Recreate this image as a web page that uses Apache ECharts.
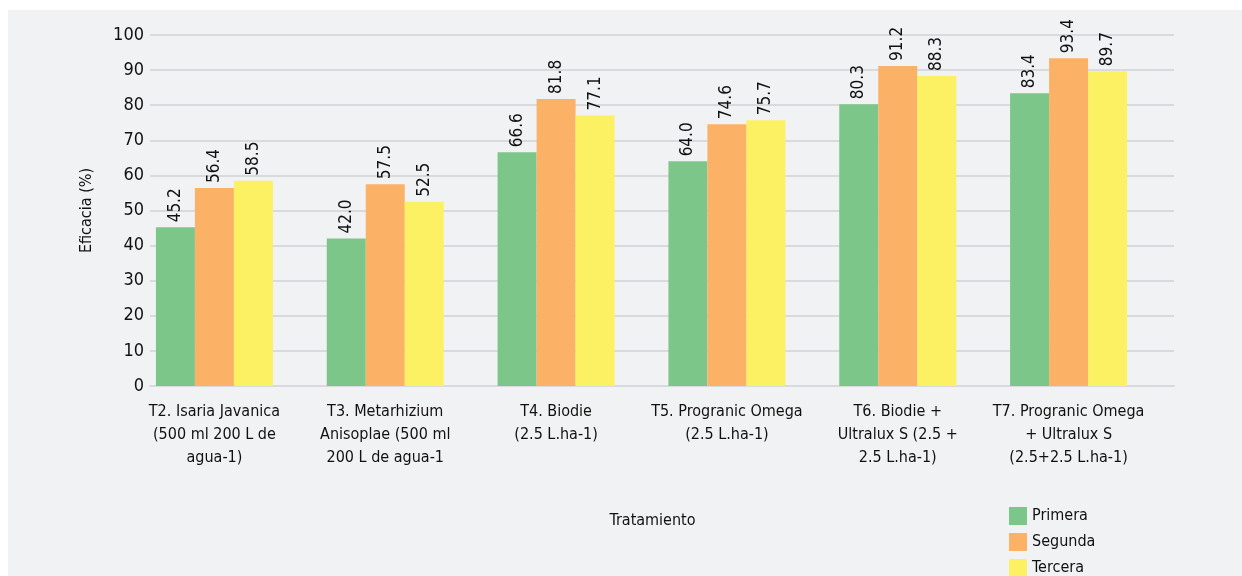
<!DOCTYPE html>
<html>
<head>
<meta charset="utf-8">
<script src="https://cdn.jsdelivr.net/npm/echarts@6/dist/echarts.min.js"></script>
<style>
  html, body { margin: 0; padding: 0; background: #fff; }
  #chart { width: 1242px; height: 576px; }
</style>
</head>
<body>
<div id="chart"></div>
<script>
var categories = [
  'T2. Isaria Javanica\n(500 ml 200 L de\nagua-1)',
  'T3. Metarhizium\nAnisoplae (500 ml\n200 L de agua-1',
  'T4. Biodie\n(2.5 L.ha-1)',
  'T5. Progranic Omega\n(2.5 L.ha-1)',
  'T6. Biodie +\nUltralux S (2.5 +\n2.5 L.ha-1)',
  'T7. Progranic Omega\n+ Ultralux S\n(2.5+2.5 L.ha-1)'
];
var primera = [45.2, 42.0, 66.6, 64.0, 80.3, 83.4];
var segunda = [56.4, 57.5, 81.8, 74.6, 91.2, 93.4];
var tercera = [58.5, 52.5, 77.1, 75.7, 88.3, 89.7];
var seriesNames = ['Primera', 'Segunda', 'Tercera'];
var colors = ['#7dc68a', '#fbb266', '#fcf063'];

var font = '"DejaVu Sans Condensed", "Roboto", sans-serif';

var myChart = echarts.init(document.getElementById('chart'));

function barSeries(name, data, color) {
  return {
    name: name,
    type: 'bar',
    data: data,
    xAxisIndex: 0,
    yAxisIndex: 0,
    barWidth: 39,
    barGap: '0%',
    itemStyle: { color: color },
    label: {
      show: true,
      position: 'top',
      rotate: 90,
      align: 'left',
      verticalAlign: 'middle',
      distance: 5,
      fontFamily: font,
      fontSize: 17,
      color: '#111',
      formatter: function (p) { return p.value.toFixed(1); }
    }
  };
}

// one legend per series so they stack in a single column
var legends = seriesNames.map(function (n, i) {
  return {
    orient: 'vertical',
    left: 1009,
    top: 507 + i * 26,
    padding: 0,
    itemWidth: 18,
    itemHeight: 18,
    icon: 'rect',
    textStyle: { fontFamily: font, fontSize: 16, color: '#111' },
    data: [n]
  };
});

var option = {
  backgroundColor: '#fff',
  animation: false,
  textStyle: { fontFamily: font },
  graphic: [{
    type: 'rect',
    left: 8, top: 10,
    shape: { width: 1234, height: 566 },
    style: { fill: '#f1f2f4' },
    z: -10
  }],
  legend: legends,
  grid: [
    { left: 129, right: 88, top: 35, bottom: 190 },
    { left: 150, right: 68, top: 35, bottom: 190 }
  ],
  xAxis: [
    {
      type: 'category',
      gridIndex: 0,
      data: categories,
      axisLine: { show: false },
      axisTick: { show: false },
      axisLabel: {
        fontFamily: font,
        fontSize: 16,
        color: '#111',
        lineHeight: 23,
        margin: 14,
        interval: 0
      },
      name: 'Tratamiento',
      nameLocation: 'middle',
      nameGap: 127,
      nameTextStyle: { fontFamily: font, fontSize: 16, color: '#111', padding: [0, 0, 0, 22] }
    },
    {
      type: 'category',
      gridIndex: 1,
      data: categories,
      axisLine: { show: true, lineStyle: { color: '#d9dadd', width: 2 } },
      axisTick: { show: false },
      axisLabel: { show: false }
    }
  ],
  yAxis: [
    {
      type: 'value',
      gridIndex: 0,
      min: 0, max: 100, interval: 10,
      axisLabel: { show: false },
      splitLine: { show: false },
      axisLine: { show: false },
      axisTick: { show: false }
    },
    {
      type: 'value',
      gridIndex: 1,
      min: 0, max: 100, interval: 10,
      axisLine: { show: false },
      axisTick: { show: false },
      axisLabel: { fontFamily: font, fontSize: 18, color: '#111', margin: 6 },
      splitLine: { lineStyle: { color: '#d9dadd', width: 2 } },
      name: 'Eficacia (%)',
      nameLocation: 'middle',
      nameGap: 55,
      nameTextStyle: { fontFamily: font, fontSize: 16, color: '#111' }
    }
  ],
  series: [
    barSeries(seriesNames[0], primera, colors[0]),
    barSeries(seriesNames[1], segunda, colors[1]),
    barSeries(seriesNames[2], tercera, colors[2])
  ]
};

myChart.setOption(option);
</script>
</body>
</html>
